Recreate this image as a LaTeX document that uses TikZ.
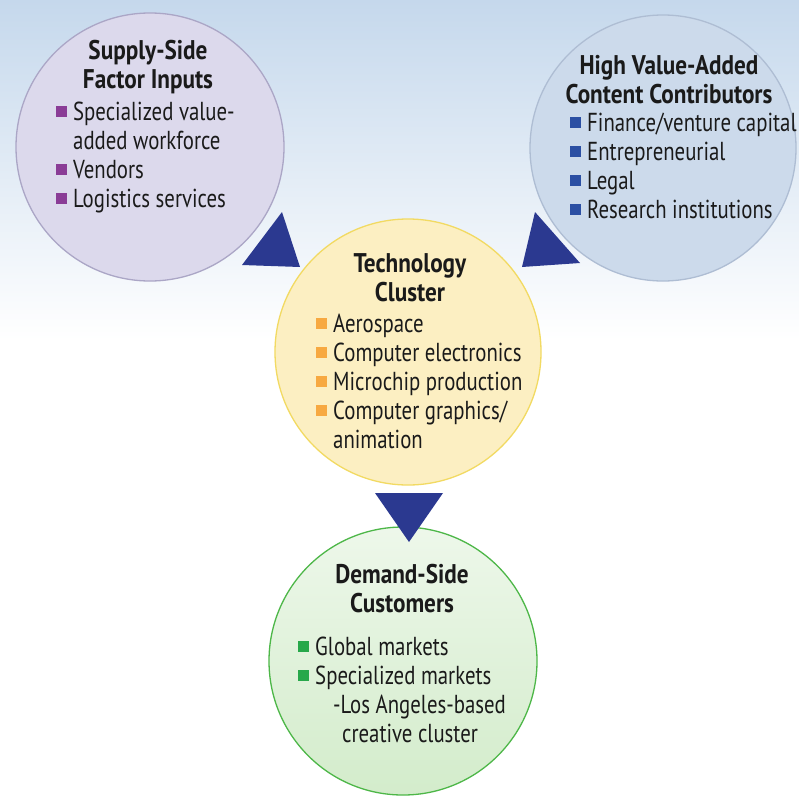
\documentclass[tikz,border=0pt]{standalone}
\usepackage{fontspec}
\setmainfont{PT Sans}[FakeStretch=0.8, BoldFeatures={FakeStretch=0.86}]
\usepackage{xcolor}
\usepackage{tikz}

\definecolor{skyblue}{HTML}{C5D8EC}
\definecolor{pointblue}{HTML}{2B3990}
\definecolor{supfill}{HTML}{DCD9EC}
\definecolor{supline}{HTML}{ABA6C6}
\definecolor{hvfill}{HTML}{CCDAEB}
\definecolor{hvline}{HTML}{AEBDD3}
\definecolor{techfill}{HTML}{FCEFC2}
\definecolor{techline}{HTML}{F2DA62}
\definecolor{demfill}{HTML}{D3ECCB}
\definecolor{demline}{HTML}{4DB748}
\definecolor{sqpurple}{HTML}{8A3C96}
\definecolor{sqblue}{HTML}{2B4FA3}
\definecolor{sqorange}{HTML}{F7A941}
\definecolor{sqgreen}{HTML}{27A84A}
\definecolor{ink}{HTML}{1A1A1A}

\newcommand\sqb[1]{\llap{\textcolor{#1}{\raisebox{3pt}{\rule{11pt}{11pt}}}\hspace{6pt}}}

\tikzset{
  bubble/.style={circle, inner sep=0pt, minimum size=#1, line width=1.3pt},
  heading/.style={font=\bfseries\fontsize{27}{29}\selectfont, align=center, anchor=base, inner sep=0pt, text=ink},
  items/.style={font=\fontsize{26}{29}\selectfont, align=left, anchor=base west, inner sep=0pt, text=ink},
}

\begin{document}
\begin{tikzpicture}[x=1pt, y=-1pt]
    \useasboundingbox (0,0) rectangle (799,795);
    \clip (0,0) rectangle (799,795);
    \fill[white] (0,0) rectangle (799,795);
    \shade[top color=skyblue, bottom color=white] (0,0) rectangle (799,340);

    % circles
    \node[bubble=268pt, fill=supfill, draw=supline] (Sup) at (150,147) {};
    \node[bubble=266pt, fill=hvfill, draw=hvline] (Hv) at (663,148) {};
    \node[bubble=266pt, fill=techfill, draw=techline] (Tech) at (408,352) {};
    \node[bubble=268pt, top color=white!60!demfill, bottom color=demfill, draw=demline] (Dem) at (403,661) {};

    % pointers
    \fill[pointblue] (282,212) -- (242,265) -- (300,267) -- cycle;
    \fill[pointblue] (535,212) -- (522,267) -- (580,263) -- cycle;
    \fill[pointblue] (375,493) -- (443,493) -- (409,542) -- cycle;

    % texts (base = last line)
    \node[heading] (SupT) at (148,88) {Supply-Side\\Factor Inputs};
    \node[items] (SupL) at (73,207) {\sqb{sqpurple}Specialized value-\\added workforce\\\sqb{sqpurple}Vendors\\\sqb{sqpurple}Logistics services};

    \node[heading] (HvT) at (669,103) {High Value-Added\\Content Contributors};
    \node[items] (HvL) at (587,218) {\sqb{sqblue}Finance/venture capital\\\sqb{sqblue}Entrepreneurial\\\sqb{sqblue}Legal\\\sqb{sqblue}Research institutions};

    \node[heading] (TechT) at (410,301) {Technology\\Cluster};
    \node[items] (TechL) at (333,448) {\sqb{sqorange}Aerospace\\\sqb{sqorange}Computer electronics\\\sqb{sqorange}Microchip production\\\sqb{sqorange}Computer graphics/\\animation};

    \node[heading] (DemT) at (402,612) {Demand-Side\\Customers};
    \node[items] (DemL) at (315,742) {\sqb{sqgreen}Global markets\\\sqb{sqgreen}Specialized markets\\\hspace{18pt}-Los Angeles-based\\\hspace{27pt}creative cluster};
  \end{tikzpicture}
\end{document}
